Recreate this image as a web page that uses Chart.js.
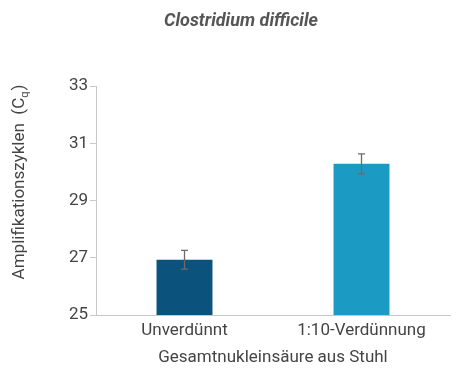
<!DOCTYPE html>
<html><head><meta charset="utf-8">
<script src="https://cdn.jsdelivr.net/npm/chart.js@4/dist/chart.umd.min.js"></script>
<style>html,body{margin:0;padding:0;background:#fff}#w{width:460px;height:368px}</style>
</head><body><div id="w"><canvas id="c"></canvas></div>
<script>
const categories = ["Unverdünnt", "1:10-Verdünnung"];
const cqValues = [26.93, 30.28];
const cqErrors = [0.33, 0.35];
const barColors = ["#0b527d", "#1b9ac4"];
const yTicks = [25, 27, 29, 31, 33];
const chartTitle = "Clostridium difficile";
const xTitle = "Gesamtnukleinsäure aus Stuhl";
const yTitleMain = "Amplifikationszyklen  (C";
const yTitleSub = "q";

const errorBars = {
  id: 'errorBars',
  afterDatasetsDraw(chart) {
    const ctx = chart.ctx, y = chart.scales.y, meta = chart.getDatasetMeta(0);
    ctx.save();
    ctx.strokeStyle = '#6b6b6b'; ctx.lineWidth = 1.3;
    meta.data.forEach((bar, i) => {
      const x = bar.x;
      const t = y.getPixelForValue(cqValues[i] + cqErrors[i]);
      const b = y.getPixelForValue(cqValues[i] - cqErrors[i]);
      ctx.beginPath();
      ctx.moveTo(x, t); ctx.lineTo(x, b);
      ctx.moveTo(x - 3.5, t); ctx.lineTo(x + 3.5, t);
      ctx.moveTo(x - 3.5, b); ctx.lineTo(x + 3.5, b);
      ctx.stroke();
    });
    ctx.restore();
  }
};
const texts = {
  id: 'texts',
  afterDraw(chart) {
    const ctx = chart.ctx;
    ctx.save();
    ctx.fillStyle = '#555';
    ctx.font = 'italic bold 18px Roboto';
    ctx.textAlign = 'center'; ctx.textBaseline = 'middle';
    ctx.fillText(chartTitle, 241, 21);
    // y title
    ctx.translate(20, 182);
    ctx.rotate(-Math.PI / 2);
    ctx.fillStyle = '#444';
    ctx.font = '17px Roboto';
    const mainW = ctx.measureText(yTitleMain).width;
    ctx.font = '11px Roboto';
    const subW = ctx.measureText(yTitleSub).width;
    ctx.font = '17px Roboto';
    const closeW = ctx.measureText(')').width;
    const total = mainW + subW + closeW + 1;
    let x0 = -total / 2;
    ctx.textAlign = 'left';
    ctx.fillText(yTitleMain, x0, 0);
    ctx.font = '11px Roboto';
    ctx.fillText(yTitleSub, x0 + mainW, 5);
    ctx.font = '17px Roboto';
    ctx.fillText(')', x0 + mainW + subW + 1, 0);
    ctx.restore();
  }
};

new Chart(document.getElementById('c'), {
  type: 'bar',
  data: {
    labels: categories,
    datasets: [{ data: cqValues, backgroundColor: barColors, borderWidth: 0,
      barPercentage: 0.316, categoryPercentage: 1 }]
  },
  options: {
    responsive: true, maintainAspectRatio: false, animation: false,
    layout: { padding: { top: 86, right: 10, left: 0, bottom: 0 } },
    plugins: { legend: { display: false }, tooltip: { enabled: false } },
    scales: {
      x: {
        grid: { display: false },
        border: { display: true, color: '#c8c8c8', width: 1 },
        ticks: { color: '#444', font: { family: 'Roboto', size: 17 }, padding: -2 },
        title: { display: true, text: xTitle, color: '#444', font: { family: 'Roboto', size: 17 }, padding: { top: 6, bottom: 0 } },
        afterFit: s => { s.height = 53; }
      },
      y: {
        min: 25, max: 33,
        afterBuildTicks: s => { s.ticks = yTicks.map(v => ({ value: v })); },
        grid: { display: true, drawOnChartArea: false, drawTicks: true, tickLength: 6, color: '#c8c8c8' },
        border: { display: true, color: '#c8c8c8', width: 1 },
        ticks: { color: '#444', font: { family: 'Roboto', size: 17 }, padding: 2 },
        afterFit: s => { s.width = 96; }
      }
    }
  },
  plugins: [errorBars, texts]
});
</script>
</body></html>
